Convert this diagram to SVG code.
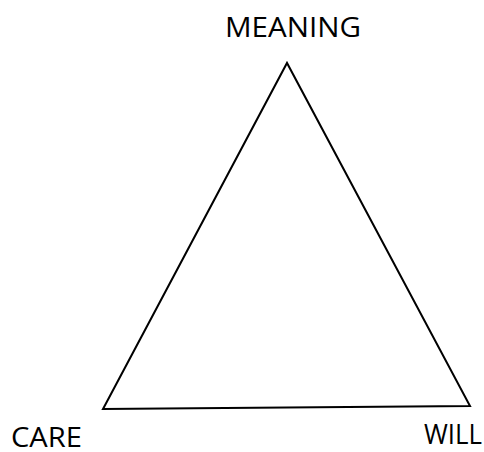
<svg xmlns="http://www.w3.org/2000/svg" width="484" height="452" viewBox="0 0 484 452">
<style>
.lbl{font-family:"Open Sans","DejaVu Sans",sans-serif;font-size:28px;fill:#000;lengthAdjust:spacingAndGlyphs}
.edge{stroke:#000;stroke-width:2;fill:none;stroke-linejoin:miter}
</style>
<rect width="484" height="452" fill="#fff"/>
<g id="connectors">
<path class="edge" d="M103,409 L287,63 L470,406 Z"/>
</g>
<g id="meaning"><text class="lbl" x="225" y="37" font-size="29" textLength="136" lengthAdjust="spacingAndGlyphs">MEANING</text></g>
<g id="care"><text class="lbl" x="11" y="447" textLength="71" lengthAdjust="spacingAndGlyphs">CARE</text></g>
<g id="will"><text class="lbl" x="424" y="444" textLength="58" lengthAdjust="spacingAndGlyphs">WILL</text></g>
</svg>
